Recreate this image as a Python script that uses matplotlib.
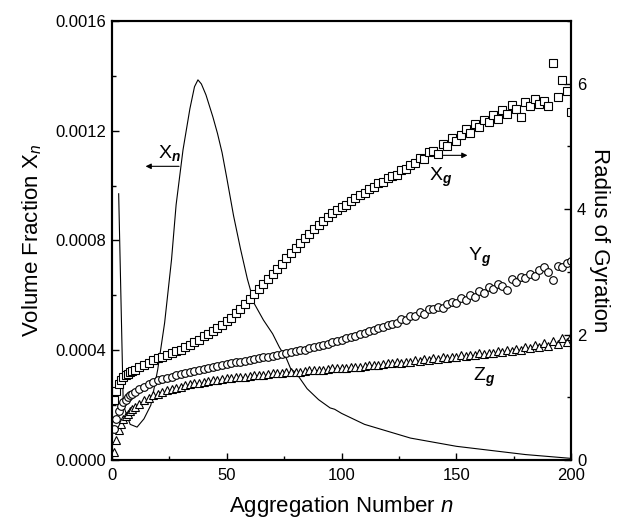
import numpy as np
import matplotlib
matplotlib.use("Agg")
import matplotlib.pyplot as plt

plt.rcParams['font.family'] = ['Liberation Sans', 'DejaVu Sans']
plt.rcParams['mathtext.fontset'] = 'custom'
plt.rcParams['mathtext.rm'] = 'Liberation Sans'
plt.rcParams['mathtext.it'] = 'Liberation Sans:italic'
plt.rcParams['mathtext.bf'] = 'Liberation Sans:bold:italic'

# aggregation numbers for the radius of gyration markers
n_rg = list(range(1, 11)) + list(range(12, 201, 2))

xg = [0.95, 1.10, 1.21, 1.28, 1.32, 1.35, 1.37, 1.40, 1.42, 1.44,
      1.48, 1.52, 1.55, 1.59, 1.62, 1.65, 1.67, 1.70, 1.73, 1.76,
      1.80, 1.84, 1.88, 1.92, 1.97, 2.01, 2.06, 2.11, 2.16, 2.21,
      2.27, 2.34, 2.41, 2.48, 2.56, 2.64, 2.72, 2.81, 2.89, 2.97,
      3.05, 3.13, 3.22, 3.30, 3.38, 3.46, 3.54, 3.61, 3.68, 3.75,
      3.81, 3.87, 3.93, 3.98, 4.03, 4.07, 4.13, 4.17, 4.23, 4.26,
      4.32, 4.35, 4.41, 4.43, 4.49, 4.52, 4.55, 4.62, 4.64, 4.71,
      4.73, 4.82, 4.80, 4.91, 4.92, 4.88, 5.04, 5.00, 5.13, 5.08,
      5.18, 5.27, 5.22, 5.36, 5.31, 5.42, 5.38, 5.50, 5.44, 5.58,
      5.52, 5.66, 5.60, 5.47, 5.70, 5.64, 5.76, 5.68, 5.73, 5.65,
      6.33, 5.79, 6.05, 5.88, 5.55]

yg = [0.50, 0.66, 0.78, 0.86, 0.92, 0.96, 1.00, 1.03, 1.06, 1.09,
      1.13, 1.17, 1.21, 1.24, 1.27, 1.29, 1.31, 1.33, 1.35, 1.37,
      1.38, 1.40, 1.42, 1.43, 1.45, 1.46, 1.48, 1.50, 1.51, 1.53,
      1.54, 1.56, 1.57, 1.58, 1.60, 1.61, 1.62, 1.64, 1.65, 1.66,
      1.68, 1.69, 1.70, 1.72, 1.73, 1.75, 1.76, 1.78, 1.80, 1.82,
      1.84, 1.85, 1.88, 1.90, 1.92, 1.94, 1.96, 1.98, 2.01, 2.03,
      2.05, 2.07, 2.10, 2.12, 2.15, 2.17, 2.19, 2.24, 2.23, 2.30,
      2.29, 2.36, 2.33, 2.40, 2.41, 2.44, 2.42, 2.49, 2.52, 2.50,
      2.58, 2.55, 2.63, 2.60, 2.70, 2.66, 2.75, 2.72, 2.80, 2.78,
      2.71, 2.88, 2.84, 2.92, 2.90, 2.97, 2.94, 3.03, 3.08, 3.00,
      2.87, 3.10, 3.08, 3.14, 3.17]

zg = [0.13, 0.32, 0.48, 0.58, 0.65, 0.70, 0.74, 0.78, 0.82, 0.85,
      0.90, 0.95, 0.99, 1.03, 1.06, 1.08, 1.11, 1.13, 1.15, 1.17,
      1.19, 1.21, 1.22, 1.23, 1.25, 1.26, 1.27, 1.28, 1.29, 1.30,
      1.31, 1.32, 1.33, 1.33, 1.34, 1.35, 1.35, 1.36, 1.37, 1.38,
      1.38, 1.39, 1.40, 1.40, 1.41, 1.41, 1.42, 1.43, 1.43, 1.44,
      1.44, 1.45, 1.46, 1.46, 1.47, 1.47, 1.48, 1.49, 1.49, 1.50,
      1.51, 1.51, 1.52, 1.53, 1.54, 1.54, 1.56, 1.55, 1.57, 1.57,
      1.59, 1.58, 1.61, 1.60, 1.62, 1.61, 1.64, 1.63, 1.65, 1.64,
      1.67, 1.66, 1.68, 1.67, 1.70, 1.69, 1.71, 1.70, 1.73, 1.72,
      1.75, 1.74, 1.77, 1.76, 1.80, 1.78, 1.83, 1.80, 1.86, 1.82,
      1.90, 1.85, 1.95, 1.88, 1.97]

# volume fraction distribution (line)
n_xn = [3, 5, 8, 11, 14, 17, 20, 23, 26, 28, 31, 34, 36, 37.5, 39, 41,
        44, 46, 48, 50, 53, 56, 59, 62, 66, 70, 73, 76, 78, 80, 85, 90,
        95, 97, 100, 105, 110, 120, 130, 140, 150, 160, 170, 180, 190, 200]
xn = [0.00097, 0.00020, 0.00013, 0.00012, 0.00015, 0.00020, 0.00033,
      0.00050, 0.00073, 0.00093, 0.00113, 0.00128, 0.00136, 0.001385,
      0.00137, 0.00133, 0.00125, 0.00119, 0.00112, 0.00103, 0.00089,
      0.00077, 0.00066, 0.00057, 0.00051, 0.00046, 0.00041, 0.00037,
      0.00033, 0.00032, 0.00026, 0.00022, 0.00019, 0.000185, 0.00017,
      0.00015, 0.00013, 0.000105, 0.00008, 0.000065, 0.00005, 0.00004,
      0.00003, 0.00002, 0.000013, 0.000006]

fig = plt.figure(figsize=(6.21, 5.21), dpi=100)
ax = fig.add_axes([0.180, 0.117, 0.740, 0.843])
ax2 = ax.twinx()

ax.plot(n_xn, xn, color='black', lw=0.8)
ax.set_xlim(0, 200)
ax.set_ylim(0, 0.0016)
ax.set_xticks([0, 50, 100, 150, 200])
ax.set_xticks(np.arange(0, 201, 25), minor=True)
ax.set_yticks([0, 0.0004, 0.0008, 0.0012, 0.0016])
ax.set_yticklabels(['0.0000', '0.0004', '0.0008', '0.0012', '0.0016'])
ax.set_yticks(np.arange(0, 0.00161, 0.0002), minor=True)

mk = dict(ls='none', mfc='white', mec='black', mew=0.8, ms=5.5)
ax2.plot(n_rg, zg, marker='^', **mk)
ax2.plot(n_rg, yg, marker='o', **mk)
ax2.plot(n_rg, xg, marker='s', **mk)
ax2.set_ylim(0, 7)
ax2.set_yticks([0, 2, 4, 6])
ax2.set_yticks(range(0, 8), minor=True)

for a in (ax, ax2):
    a.tick_params(which='both', direction='in', labelsize=12, width=1)
    a.tick_params(which='major', length=5)
    a.tick_params(which='minor', length=3)
    for s in a.spines.values():
        s.set_linewidth(1.5)
ax.tick_params(axis='x', pad=6)
ax.tick_params(axis='y', pad=4)
ax2.tick_params(axis='y', pad=4)

ax.set_xlabel('Aggregation Number $\\mathit{n}$', fontsize=16, labelpad=8)
ax.set_ylabel('Volume Fraction X$_{\\mathit{n}}$', fontsize=16, labelpad=8)
ax2.set_ylabel('Radius of Gyration', fontsize=16, rotation=270, labelpad=17)

# curve labels and arrows
ax.text(25.3, 0.00112, 'X$_{\\mathbf{n}}$', fontsize=14, ha='center', va='center')
ax.annotate('', xy=(13.5, 0.00107), xytext=(30.5, 0.00107),
            arrowprops=dict(arrowstyle='-|>', color='black', lw=0.8, mutation_scale=8))
ax.text(143, 0.00103, 'X$_{\\mathbf{g}}$', fontsize=14, ha='center', va='center')
ax.annotate('', xy=(156, 0.00111), xytext=(138.5, 0.00111),
            arrowprops=dict(arrowstyle='-|>', color='black', lw=0.8, mutation_scale=8))
ax.text(160.3, 0.00074, 'Y$_{\\mathbf{g}}$', fontsize=14, ha='center', va='center')
ax.text(162, 0.00030, 'Z$_{\\mathbf{g}}$', fontsize=14, ha='center', va='center')

fig.savefig('out.png', dpi=100)
